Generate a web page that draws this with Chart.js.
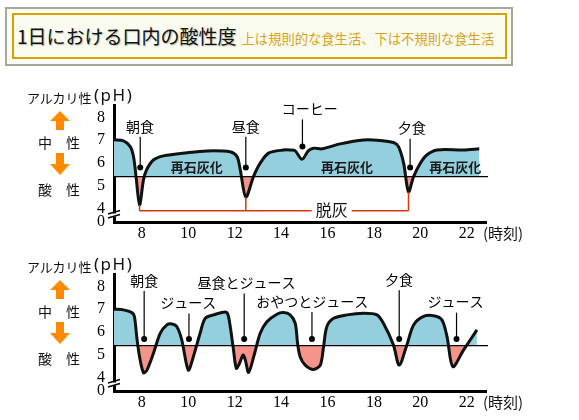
<!DOCTYPE html>
<html lang="ja">
<head>
<meta charset="utf-8">
<script src="https://cdn.jsdelivr.net/npm/chart.js@4/dist/chart.umd.min.js"></script>
<style>
  body { margin:0; width:579px; height:420px; background:#fff; font-family:"Noto Sans CJK JP", sans-serif; color:#111; position:relative; overflow:hidden; }
  .box-out { position:absolute; left:5px; top:7px; width:504px; height:55px; border:2px solid #a8a89a; background:#fcfdf6; }
  .box-in { position:absolute; left:5px; top:4px; width:491px; height:42px; border:2px solid #d6a300; background:#f9fcee; line-height:42px; white-space:nowrap; }
  .title { margin-left:3px; font-size:19px; color:#111; text-shadow:1px 1px 1px rgba(0,0,0,0.25); }
  .sub { margin-left:5px; font-size:13.3px; color:#d9a21a; }
  .panel { position:absolute; left:0; width:579px; height:170px; }
  .panel canvas { position:absolute; left:0; top:0; }
  .side { position:absolute; font-size:14px; line-height:20px; white-space:nowrap; }
  .panel svg { position:absolute; }
</style>
</head>
<body>
<div class="box-out"><div class="box-in"><span class="title">1日における口内の酸性度</span><span class="sub">上は規則的な食生活、下は不規則な食生活</span></div></div>

<div class="panel" style="top:80px">
  <canvas id="regular" width="579" height="170"></canvas>
  <div class="side" style="left:27px;top:8px;font-size:13px">アルカリ性</div>
  <div class="side" style="left:94px;top:5px;font-size:17px;letter-spacing:1.5px;font-family:'Noto Sans',sans-serif">(pH)</div>
  <svg style="left:50px;top:31px" width="20" height="20"><polygon points="10,0 20,10 14,10 14,19 6,19 6,10 0,10" fill="#ff8a00"/></svg>
  <div class="side" style="left:38px;top:52px">中　性</div>
  <svg style="left:50px;top:73px" width="20" height="23"><polygon points="6,0 14,0 14,11 20,11 10,22 0,11 6,11" fill="#ff8a00"/></svg>
  <div class="side" style="left:38px;top:99px">酸　性</div>
</div>

<div class="panel" style="top:249px">
  <canvas id="irregular" width="579" height="170"></canvas>
  <div class="side" style="left:27px;top:8px;font-size:13px">アルカリ性</div>
  <div class="side" style="left:94px;top:5px;font-size:17px;letter-spacing:1.5px;font-family:'Noto Sans',sans-serif">(pH)</div>
  <svg style="left:50px;top:31px" width="20" height="20"><polygon points="10,0 20,10 14,10 14,19 6,19 6,10 0,10" fill="#ff8a00"/></svg>
  <div class="side" style="left:38px;top:52px">中　性</div>
  <svg style="left:50px;top:73px" width="20" height="23"><polygon points="6,0 14,0 14,11 20,11 10,22 0,11 6,11" fill="#ff8a00"/></svg>
  <div class="side" style="left:38px;top:99px">酸　性</div>
</div>

<script>
// axis ticks
const hourTicks = [8, 10, 12, 14, 16, 18, 20, 22];
const phTicks = [4, 5, 6, 7, 8];
const critical = 5.4; // line between remineralisation and decalcification

// regular eating (top)
const regularHours = [6.8, 7.21, 7.5, 7.64, 7.75, 7.9, 8.07, 8.2, 8.5, 8.93, 9.94, 10.8, 11.8, 12.1, 12.24, 12.48, 12.81, 13.1, 13.46, 14.1, 14.39, 14.6, 14.9, 15.18, 15.4, 15.76, 16.55, 17.55, 18.27, 18.84, 19.06, 19.28, 19.49, 19.71, 20.0, 20.28, 20.72, 21.86, 22.54];
const regularPH = [7.02, 6.97, 6.72, 6.28, 5.4, 4.15, 5.25, 5.69, 6.13, 6.31, 6.45, 6.53, 6.49, 6.28, 5.7, 4.49, 5.4, 5.99, 6.43, 6.57, 6.57, 6.54, 6.16, 6.54, 6.65, 6.62, 6.84, 7.01, 6.99, 6.9, 6.72, 5.99, 4.73, 5.4, 5.99, 6.35, 6.57, 6.57, 6.62];
const regularEvents = ['朝食', '昼食', 'コーヒー', '夕食'];
const regularDotHours = [7.93, 12.48, 14.92, 19.56];
const regularDotPH = [5.8, 5.8, 6.72, 5.8];
const regularLabelHours = [7.92, 12.48, 15.24, 19.63];
const regularLabelPH = [7.61, 7.61, 8.38, 7.53];
const remineralHours = [10.37, 16.84, 21.5];
const remineralPH = 5.81;
const decalcHours = [7.9, 12.48, 19.49];
const decalcPH = 3.9;
const decalcLabelHour = 16.18;

// irregular eating (bottom)
const irregularHours = [6.8, 7.21, 7.57, 7.68, 7.78, 7.9, 8.07, 8.22, 8.5, 8.79, 9.08, 9.29, 9.51, 9.72, 10.0, 10.22, 10.51, 10.73, 11.09, 11.52, 11.69, 11.81, 11.95, 12.07, 12.21, 12.36, 12.46, 12.6, 12.82, 13.1, 13.39, 13.82, 14.1, 14.39, 14.61, 14.71, 14.82, 15.04, 15.4, 15.69, 15.83, 15.97, 16.26, 16.84, 17.55, 18.13, 18.41, 18.84, 19.09, 19.42, 19.71, 20.14, 20.57, 20.93, 21.15, 21.4, 21.86, 22.44];
const irregularPH = [7.0, 6.97, 6.85, 6.68, 5.79, 4.91, 4.2, 4.32, 5.06, 5.94, 6.31, 6.35, 6.23, 5.65, 4.32, 4.91, 5.94, 6.6, 6.75, 6.87, 6.82, 6.23, 5.2, 4.4, 4.62, 4.98, 4.76, 4.22, 4.91, 5.94, 6.45, 6.78, 6.85, 6.75, 6.38, 5.5, 4.91, 4.54, 4.35, 4.54, 5.35, 6.23, 6.6, 6.75, 6.82, 6.75, 6.38, 5.43, 4.54, 5.43, 6.31, 6.68, 6.71, 6.53, 5.79, 4.47, 5.2, 6.09];
const irregularEvents = ['朝食', 'ジュース', '昼食とジュース', 'おやつとジュース', '夕食', 'ジュース'];
const irregularDotHours = [8.1, 10.03, 12.41, 15.33, 19.09, 21.56];
const irregularDotPH = [5.69, 5.69, 5.69, 5.69, 5.69, 5.69];
const irregularLabelHours = [8.1, 10.0, 12.51, 15.34, 19.08, 21.52];
const irregularLabelPH = [8.26, 7.27, 8.15, 7.34, 8.3, 7.31];

const JP = '"Noto Sans CJK JP", sans-serif';

function overlay(cfg) {
    return {
        id: 'overlay',
        afterDatasetsDraw(chart) {
            const { ctx, chartArea: a, scales: { x, y } } = chart;
            ctx.save();

            // critical pH line
            const by = y.getPixelForValue(critical);
            ctx.strokeStyle = '#000';
            ctx.lineWidth = 1.3;
            ctx.beginPath();
            ctx.moveTo(a.left, by);
            ctx.lineTo(a.right + 2, by);
            ctx.stroke();

            // event markers
            ctx.textAlign = 'center';
            ctx.textBaseline = 'middle';
            ctx.font = '14px ' + JP;
            cfg.events.forEach((txt, i) => {
                const dx = x.getPixelForValue(cfg.dotHours[i]);
                const dy = y.getPixelForValue(cfg.dotPH[i]);
                const ly = y.getPixelForValue(cfg.labelPH[i]);
                ctx.strokeStyle = '#000';
                ctx.lineWidth = 1.2;
                ctx.beginPath();
                ctx.moveTo(dx, ly + 10.5);
                ctx.lineTo(dx, dy);
                ctx.stroke();
                ctx.fillStyle = '#000';
                ctx.beginPath();
                ctx.arc(dx, dy, 3, 0, Math.PI * 2);
                ctx.fill();
                ctx.fillText(txt, x.getPixelForValue(cfg.labelHours[i]), ly);
            });

            // remineralisation labels
            if (cfg.remineral) {
                ctx.font = 'bold 13px ' + JP;
                ctx.fillStyle = '#1a1a1a';
                remineralHours.forEach(h => {
                    ctx.fillText('再石灰化', x.getPixelForValue(h), y.getPixelForValue(remineralPH));
                });
            }

            // decalcification bracket
            if (cfg.decalc) {
                const ly = y.getPixelForValue(decalcPH);
                const cx = x.getPixelForValue(decalcLabelHour);
                const xs = decalcHours.map(h => x.getPixelForValue(h));
                ctx.strokeStyle = '#d03a10';
                ctx.lineWidth = 1.5;
                ctx.beginPath();
                decalcHours.forEach((h, i) => {
                    const minPH = regularPH[regularHours.indexOf(h)];
                    ctx.moveTo(xs[i], y.getPixelForValue(minPH));
                    ctx.lineTo(xs[i], ly);
                });
                ctx.moveTo(xs[0], ly);
                ctx.lineTo(cx - 20, ly);
                ctx.moveTo(cx + 20, ly);
                ctx.lineTo(xs[xs.length - 1], ly);
                ctx.stroke();
                ctx.font = '16px ' + JP;
                ctx.fillStyle = '#111';
                ctx.fillText('脱灰', cx, ly - 1);
            }
            ctx.restore();
        },
        afterDraw(chart) {
            const { ctx, chartArea: a, scales: { y } } = chart;
            ctx.save();
            // axis break mark
            const yb = y.getPixelForValue(3.73);
            ctx.fillStyle = '#fff';
            ctx.fillRect(a.left - 3, yb - 1, 6, 3);
            ctx.strokeStyle = '#000';
            ctx.lineWidth = 1.5;
            ctx.beginPath();
            ctx.moveTo(a.left - 6, yb - 0.5); ctx.lineTo(a.left + 6, yb - 4);
            ctx.moveTo(a.left - 6, yb + 3.5); ctx.lineTo(a.left + 6, yb);
            ctx.stroke();
            // x axis unit
            ctx.font = '15px ' + JP;
            ctx.fillStyle = '#111';
            ctx.textAlign = 'left';
            ctx.textBaseline = 'middle';
            ctx.fillText('(時刻)', a.right - 3, a.bottom + 11);
            ctx.restore();
        }
    };
}

function drawPanel(id, hours, ph, cfg) {
    const tickFont = { family: '"Liberation Serif", serif', size: 16 };
    new Chart(document.getElementById(id), {
        type: 'line',
        data: {
            datasets: [{
                data: hours.map((h, i) => ({ x: h, y: ph[i] })),
                borderColor: '#111',
                borderWidth: 3,
                pointRadius: 0,
                tension: 0.3,
                fill: { target: { value: critical }, above: '#93cfdc', below: '#f4948a' }
            }]
        },
        options: {
            responsive: false,
            animation: false,
            layout: { padding: { top: 25, right: 93, left: 0, bottom: 0 } },
            plugins: { legend: { display: false }, tooltip: { enabled: false } },
            scales: {
                x: {
                    type: 'linear', min: 6.8, max: 22.83,
                    afterBuildTicks: s => { s.ticks = hourTicks.map(v => ({ value: v })); },
                    afterFit: s => { s.height = 28; },
                    grid: { display: true, drawOnChartArea: false, drawTicks: false },
                    border: { display: true, color: '#000', width: 3 },
                    ticks: { color: '#000', font: tickFont, padding: 2, maxRotation: 0 }
                },
                y: {
                    min: 3.4, max: 8.55,
                    afterBuildTicks: s => { s.ticks = [3.4].concat(phTicks).map(v => ({ value: v })); },
                    afterFit: s => { s.width = 114; },
                    grid: { display: true, drawOnChartArea: false, drawTicks: false },
                    border: { display: true, color: '#000', width: 3 },
                    ticks: { color: '#000', font: tickFont, padding: 9, callback: v => v === 3.4 ? '0' : v }
                }
            }
        },
        plugins: [overlay(cfg)]
    });
}

drawPanel('regular', regularHours, regularPH, {
    events: regularEvents, dotHours: regularDotHours, dotPH: regularDotPH,
    labelHours: regularLabelHours, labelPH: regularLabelPH, remineral: true, decalc: true
});
drawPanel('irregular', irregularHours, irregularPH, {
    events: irregularEvents, dotHours: irregularDotHours, dotPH: irregularDotPH,
    labelHours: irregularLabelHours, labelPH: irregularLabelPH, remineral: false, decalc: false
});
</script>
</body>
</html>
